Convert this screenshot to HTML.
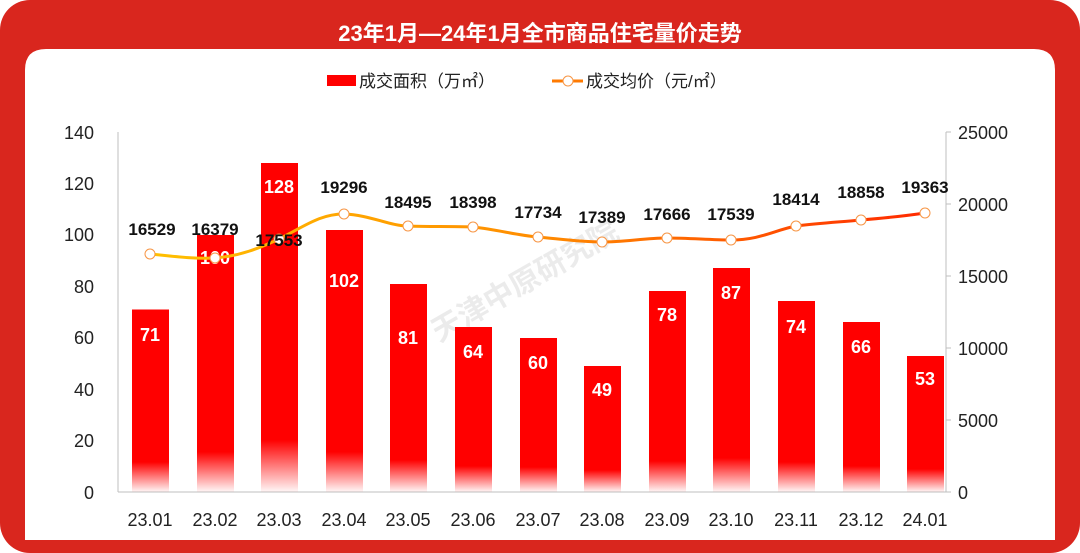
<!DOCTYPE html>
<html><head><meta charset="utf-8"><style>
html,body{margin:0;padding:0;width:1080px;height:553px;overflow:hidden;background:#fff}
</style></head><body>
<svg width="1080" height="553" xmlns="http://www.w3.org/2000/svg" font-family="Liberation Sans, Noto Sans CJK SC, sans-serif">
<defs>
<linearGradient id="bg" x1="0" y1="1" x2="0" y2="0">
<stop offset="0" stop-color="#ff0000" stop-opacity="0.03"/>
<stop offset="1" stop-color="#ff0000"/>
</linearGradient>
<linearGradient id="lg" gradientUnits="userSpaceOnUse" x1="150" y1="0" x2="925" y2="0">
<stop offset="0" stop-color="#ffc000"/>
<stop offset="0.5" stop-color="#ff8c00"/>
<stop offset="1" stop-color="#ff2a00"/>
</linearGradient>
</defs>
<rect x="0" y="0" width="1080" height="553" rx="30" fill="#d9261e"/>
<path d="M25,540 V70 Q25,49 46,49 H1034 Q1055,49 1055,70 V540 Z" fill="#fff"/>
<text x="540" y="41" text-anchor="middle" font-size="22" font-weight="bold" fill="#fff">23年1月—24年1月全市商品住宅量价走势</text>
<!-- legend -->
<rect x="327" y="75" width="29" height="11" fill="#ff0000"/>
<text x="359" y="87" font-size="17" fill="#222">成交面积（万㎡）</text>
<line x1="552" y1="81" x2="583" y2="81" stroke="#ff7a00" stroke-width="3"/>
<circle cx="568" cy="81" r="5" fill="#fff" stroke="#f79646" stroke-width="1"/>
<text x="586" y="87" font-size="17" fill="#222">成交均价（元/㎡）</text>
<!-- axes -->
<line x1="118" y1="132" x2="118" y2="492" stroke="#bfbfbf"/>
<line x1="118" y1="492" x2="946" y2="492" stroke="#bfbfbf"/>
<line x1="946" y1="132" x2="946" y2="492" stroke="#bfbfbf"/>
<g stroke="#bfbfbf"><line x1="946" y1="132" x2="951" y2="132"/><line x1="946" y1="204" x2="951" y2="204"/><line x1="946" y1="276" x2="951" y2="276"/><line x1="946" y1="348" x2="951" y2="348"/><line x1="946" y1="420" x2="951" y2="420"/><line x1="946" y1="492" x2="951" y2="492"/></g>
<g font-size="18" fill="#222" text-anchor="end">
<text x="94" y="139">140</text><text x="94" y="190">120</text><text x="94" y="241">100</text><text x="94" y="293">80</text><text x="94" y="344">60</text><text x="94" y="396">40</text><text x="94" y="447">20</text><text x="94" y="499">0</text>
</g>
<g font-size="18" fill="#222" text-anchor="start">
<text x="958" y="139">25000</text><text x="958" y="211">20000</text><text x="958" y="283">15000</text><text x="958" y="355">10000</text><text x="958" y="427">5000</text><text x="958" y="499">0</text>
</g>
<g font-size="18" fill="#222" text-anchor="middle">
<text x="150" y="526">23.01</text><text x="215" y="526">23.02</text><text x="279" y="526">23.03</text><text x="344" y="526">23.04</text><text x="408" y="526">23.05</text><text x="473" y="526">23.06</text><text x="538" y="526">23.07</text><text x="602" y="526">23.08</text><text x="667" y="526">23.09</text><text x="731" y="526">23.10</text><text x="796" y="526">23.11</text><text x="861" y="526">23.12</text><text x="925" y="526">24.01</text>
</g>
<!-- watermark -->
<text x="530" y="290" transform="rotate(-30 530 290)" text-anchor="middle" font-size="30" font-weight="bold" fill="#000" fill-opacity="0.08">天津中原研究院</text>
<!-- bars -->
<g>
<rect x="132" y="309.5" width="37" height="152.5" fill="#ff0000"/><rect x="132" y="462" width="37" height="30" fill="url(#bg)"/>
<rect x="197" y="235" width="37" height="217" fill="#ff0000"/><rect x="197" y="452" width="37" height="40" fill="url(#bg)"/>
<rect x="261" y="163" width="37" height="277" fill="#ff0000"/><rect x="261" y="440" width="37" height="52" fill="url(#bg)"/>
<rect x="326" y="230" width="37" height="222" fill="#ff0000"/><rect x="326" y="452" width="37" height="40" fill="url(#bg)"/>
<rect x="390" y="284" width="37" height="176" fill="#ff0000"/><rect x="390" y="460" width="37" height="32" fill="url(#bg)"/>
<rect x="455" y="327" width="37" height="139" fill="#ff0000"/><rect x="455" y="466" width="37" height="26" fill="url(#bg)"/>
<rect x="520" y="338" width="37" height="129" fill="#ff0000"/><rect x="520" y="467" width="37" height="25" fill="url(#bg)"/>
<rect x="584" y="366" width="37" height="104" fill="#ff0000"/><rect x="584" y="470" width="37" height="22" fill="url(#bg)"/>
<rect x="649" y="291" width="37" height="170" fill="#ff0000"/><rect x="649" y="461" width="37" height="31" fill="url(#bg)"/>
<rect x="713" y="268" width="37" height="190" fill="#ff0000"/><rect x="713" y="458" width="37" height="34" fill="url(#bg)"/>
<rect x="778" y="301" width="37" height="161" fill="#ff0000"/><rect x="778" y="462" width="37" height="30" fill="url(#bg)"/>
<rect x="843" y="322" width="37" height="144" fill="#ff0000"/><rect x="843" y="466" width="37" height="26" fill="url(#bg)"/>
<rect x="907" y="356" width="37" height="113" fill="#ff0000"/><rect x="907" y="469" width="37" height="23" fill="url(#bg)"/>
</g>
<g font-size="18" font-weight="bold" fill="#fff" text-anchor="middle">
<text x="150" y="341">71</text><text x="215" y="264">100</text><text x="279" y="193">128</text><text x="344" y="287">102</text><text x="408" y="344">81</text><text x="473" y="358">64</text><text x="538" y="369">60</text><text x="602" y="396">49</text><text x="667" y="321">78</text><text x="731" y="299">87</text><text x="796" y="333">74</text><text x="861" y="353">66</text><text x="925" y="385">53</text>
</g>
<!-- line -->
<path d="M150,254 C180,257 195,259 215,258 C240,256 260,248 279,239 C305,226 320,214 344,214 C370,215 390,226 408,226 C430,227 450,226 473,227 C500,230 515,235 538,237 C560,239 580,242 602,242 C625,242 645,238 667,238 C690,238 710,240 731,240 C760,240 775,230 796,226 C820,223 840,222 861,220 C885,218 905,216 925,213" fill="none" stroke="url(#lg)" stroke-width="3"/>
<g fill="#fff" stroke="#f79646" stroke-width="1">
<circle cx="150" cy="254" r="5"/><circle cx="215" cy="258" r="5"/><circle cx="279" cy="239" r="5"/><circle cx="344" cy="214" r="5"/><circle cx="408" cy="226" r="5"/><circle cx="473" cy="227" r="5"/><circle cx="538" cy="237" r="5"/><circle cx="602" cy="242" r="5"/><circle cx="667" cy="238" r="5"/><circle cx="731" cy="240" r="5"/><circle cx="796" cy="226" r="5"/><circle cx="861" cy="220" r="5"/><circle cx="925" cy="213" r="5"/>
</g>
<g font-size="17" font-weight="bold" fill="#111" text-anchor="middle">
<text x="152" y="235">16529</text><text x="215" y="235">16379</text><text x="279" y="246">17553</text><text x="344" y="193">19296</text><text x="408" y="208">18495</text><text x="473" y="208">18398</text><text x="538" y="218">17734</text><text x="602" y="223">17389</text><text x="667" y="220">17666</text><text x="731" y="220">17539</text><text x="796" y="205">18414</text><text x="861" y="198">18858</text><text x="925" y="193">19363</text>
</g>
</svg>
</body></html>
